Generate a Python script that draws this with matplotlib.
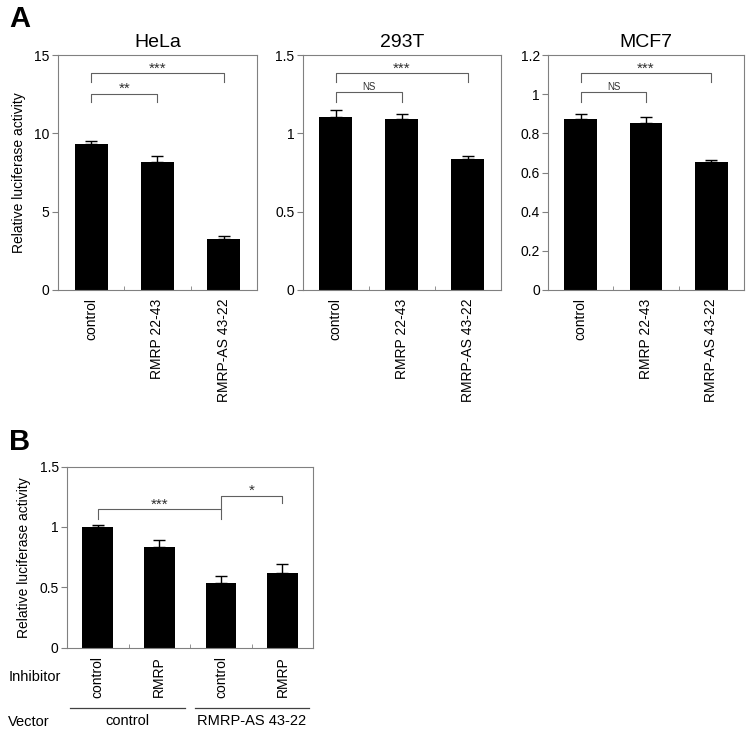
import numpy as np
import matplotlib.pyplot as plt
from matplotlib.ticker import FuncFormatter

# 数据
cell_lines = ['HeLa', '293T', 'MCF7']
groups_a = ['control', 'RMRP 22-43', 'RMRP-AS 43-22']
hela_mean = [9.35, 8.15, 3.27]
hela_err = [0.15, 0.40, 0.15]
t293_mean = [1.105, 1.09, 0.834]
t293_err = [0.045, 0.032, 0.02]
mcf7_mean = [0.872, 0.856, 0.655]
mcf7_err = [0.025, 0.03, 0.008]
y_max_a = [15, 1.5, 1.2]
y_step_a = [5, 0.5, 0.2]
# 显著性标记: (起点, 终点, 高度, 左腿底, 右腿底, 文本)
sig_hela = [(0, 2, 13.87, 13.3, 13.3, '***'), (0, 1, 12.55, 12.0, 12.0, '**')]
sig_293t = [(0, 2, 1.387, 1.33, 1.33, '***'), (0, 1, 1.262, 1.2, 1.2, 'NS')]
sig_mcf7 = [(0, 2, 1.11, 1.064, 1.064, '***'), (0, 1, 1.01, 0.962, 0.962, 'NS')]

inhibitor_b = ['control', 'RMRP', 'control', 'RMRP']
vector_b = ['control', 'RMRP-AS 43-22']
b_mean = [1.0, 0.837, 0.533, 0.621]
b_err = [0.02, 0.055, 0.064, 0.069]
sig_b = [(0, 2, 1.15, 1.07, 1.07, '***'), (2, 3, 1.26, 1.15, 1.2, '*')]

plt.rcParams['font.family'] = ['Liberation Sans', 'DejaVu Sans']
plt.rcParams['font.size'] = 10

fig = plt.figure(figsize=(7.53, 7.36), dpi=100)
spine_color = '#808080'


def fmt(v, pos):
    return ('%g' % round(v, 2))


def style_axes(ax, n, ymax, ystep):
    ax.set_xlim(-0.5, n - 0.5)
    ax.set_ylim(0, ymax)
    ax.set_yticks(np.arange(0, ymax + ystep / 2, ystep))
    ax.yaxis.set_major_formatter(FuncFormatter(fmt))
    for s in ax.spines.values():
        s.set_color(spine_color)
        s.set_linewidth(0.8)
    ax.tick_params(axis='y', direction='out', length=4, color=spine_color,
                   labelsize=10, pad=2)
    ax.set_xticks(np.arange(n), minor=False)
    ax.set_xticks(np.arange(0.5, n - 0.5, 1), minor=True)
    ax.tick_params(axis='x', which='major', length=0, labelsize=10, pad=6)
    ax.tick_params(axis='x', which='minor', direction='in', length=3,
                   color=spine_color)


def draw_sig(ax, sigs, ymax):
    for x0, x1, h, l0, l1, txt in sigs:
        ax.plot([x0, x0, x1, x1], [l0, h, h, l1], color='#606060', lw=0.8)
        if txt == 'NS':
            ax.text((x0 + x1) / 2, h + ymax * 0.012, txt, ha='center',
                    va='baseline', fontsize=7, color='#303030')
        else:
            ax.text((x0 + x1) / 2, h + ymax * 0.002, txt, ha='center',
                    va='baseline', fontsize=11, color='#303030')


# 图A
pos_a = [(0.077, 0.264), (0.402, 0.263), (0.728, 0.260)]
means_a = [hela_mean, t293_mean, mcf7_mean]
errs_a = [hela_err, t293_err, mcf7_err]
sigs_a = [sig_hela, sig_293t, sig_mcf7]
for i in range(3):
    ax = fig.add_axes([pos_a[i][0], 0.606, pos_a[i][1], 0.319])
    x = np.arange(len(groups_a))
    ax.bar(x, means_a[i], width=0.5, color='black', zorder=2)
    ax.errorbar(x, means_a[i], yerr=[np.zeros(3), errs_a[i]], fmt='none',
                ecolor='black', elinewidth=1, capsize=4, capthick=1, zorder=1)
    style_axes(ax, 3, y_max_a[i], y_step_a[i])
    ax.set_xticklabels(groups_a, rotation=90)
    ax.set_title(cell_lines[i], fontsize=14, pad=6)
    draw_sig(ax, sigs_a[i], y_max_a[i])
    if i == 0:
        ax.set_ylabel('Relative luciferase activity', fontsize=10, labelpad=6)

fig.text(0.012, 0.974, 'A', fontsize=21, fontweight='bold', va='center')

# 图B
axb = fig.add_axes([0.089, 0.120, 0.327, 0.246])
xb = np.arange(len(inhibitor_b))
axb.bar(xb, b_mean, width=0.5, color='black', zorder=2)
axb.errorbar(xb, b_mean, yerr=[np.zeros(4), b_err], fmt='none',
             ecolor='black', elinewidth=1, capsize=4, capthick=1, zorder=1)
style_axes(axb, 4, 1.5, 0.5)
axb.set_xticklabels(inhibitor_b, rotation=90)
axb.set_ylabel('Relative luciferase activity', fontsize=10, labelpad=6)
draw_sig(axb, sig_b, 1.5)

fig.text(0.012, 0.399, 'B', fontsize=21, fontweight='bold', va='center')
fig.text(0.011, 0.080, 'Inhibitor', fontsize=10.5, va='center')
fig.text(0.011, 0.019, 'Vector', fontsize=10.5, va='center')

# Vector 分组线
for j, (a, b) in enumerate([(-0.45, 1.42), (1.58, 3.43)]):
    axb.plot([a, b], [-0.50, -0.50], color='#404040', lw=0.9,
             clip_on=False)
    axb.text((a + b) / 2, -0.61, vector_b[j], ha='center', va='center',
             fontsize=10.5)

fig.savefig('out.png', dpi=100)
